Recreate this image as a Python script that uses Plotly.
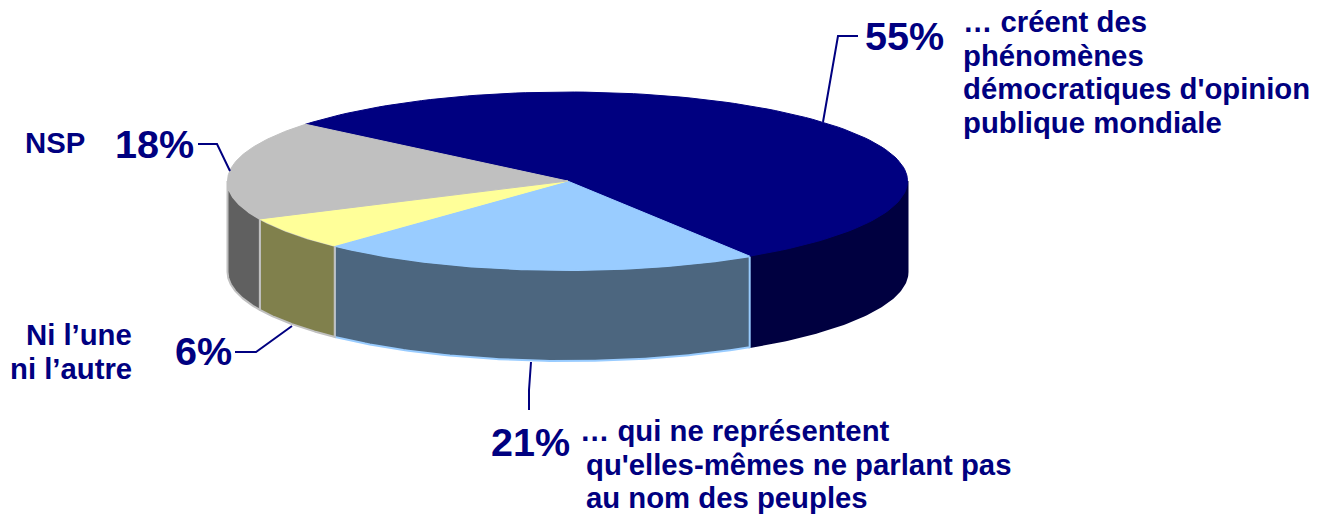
import numpy as np
import plotly.graph_objects as go

categories = ["… créent des phénomènes démocratiques d'opinion publique mondiale",
              "… qui ne représentent qu'elles-mêmes ne parlant pas au nom des peuples",
              "Ni l’une ni l’autre", "NSP"]
values = [55, 21, 6, 18]
top_colors = ["#000080", "#99CCFF", "#FFFF99", "#C0C0C0"]
side_colors = ["#000040", "#4C667F", "#80804C", "#606060"]
edge_colors = ["#000080", "#99CCFF", "#C0C0C0", "#C0C0C0"]
value_pos = [(904, 36), (530, 442), (203, 351), (154, 144)]
label_lines = [
    [("… créent des", 961, 21), ("phénomènes", 961, 55), ("démocratiques d'opinion", 961, 88), ("publique mondiale", 961, 122)],
    [("… qui ne représentent", 578, 430), ("qu'elles-mêmes ne parlant pas", 584, 464), ("au nom des peuples", 584, 497)],
    [("Ni l’une", 134, 334), ("ni l’autre", 134, 368)],
    [("NSP", 87, 142)],
]
leader_x = [[858, 838, 823], [529, 529, 531], [235, 256, 292], [198, 217, 230]]
leader_y = [[36, 36, 122], [410, 390, 362], [352, 352, 326], [144, 144, 171]]

CX, CY, RX, RY, DEPTH = 567.5, 181, 340, 89, 91
START = 140.4
NAVY = "#000080"
FONT = "Liberation Sans"

def ell(deg, dy=0):
    r = np.radians(deg)
    return CX + RX * np.cos(r), CY - RY * np.sin(r) + dy

fig = go.Figure()
bounds = START - np.cumsum([0] + values) * 3.6
# side walls
for i in range(len(values)):
    a0, a1 = bounds[i], bounds[i + 1]
    # visible front of the cylinder lies between 0 and -180 degrees
    lo, hi = max(a1, -180), min(a0, 0)
    if hi <= lo:
        continue
    t = np.linspace(hi, lo, 80)
    xt, yt = ell(t)
    xb, yb = ell(t[::-1], DEPTH)
    fig.add_trace(go.Scatter(x=np.r_[xt, xb, xt[0]], y=np.r_[yt, yb, yt[0]], mode="lines",
                             fill="toself", fillcolor=side_colors[i],
                             line=dict(color=edge_colors[i] if i else side_colors[i], width=2),
                             hoverinfo="skip", showlegend=False))
# top faces
for i in range(len(values)):
    t = np.linspace(bounds[i], bounds[i + 1], 120)
    xt, yt = ell(t)
    fig.add_trace(go.Scatter(x=np.r_[CX, xt, CX], y=np.r_[CY, yt, CY], mode="lines",
                             fill="toself", fillcolor=top_colors[i],
                             line=dict(color=top_colors[i], width=1),
                             hoverinfo="skip", showlegend=False))
# leader lines
for lx, ly in zip(leader_x, leader_y):
    fig.add_trace(go.Scatter(x=lx, y=ly, mode="lines", line=dict(color=NAVY, width=2),
                             hoverinfo="skip", showlegend=False))

anns = []
for v, (x, y) in zip(values, value_pos):
    anns.append(dict(x=x, y=y, text=f"<b>{v}%</b>", showarrow=False, xanchor="center", yanchor="middle",
                     font=dict(family=FONT, size=39.5, color=NAVY)))
for i, lines in enumerate(label_lines):
    anchor = "right" if i == 2 or i == 3 else "left"
    for s, x, y in lines:
        anns.append(dict(x=x, y=y, text=f"<b>{s}</b>", showarrow=False, xanchor=anchor, yanchor="middle",
                         font=dict(family=FONT, size=29.3, color=NAVY)))

fig.update_layout(width=1330, height=515, margin=dict(l=0, r=0, t=0, b=0),
                  paper_bgcolor="white", plot_bgcolor="white", annotations=anns,
                  xaxis=dict(range=[0, 1330], visible=False, fixedrange=True),
                  yaxis=dict(range=[515, 0], visible=False, fixedrange=True))
fig.write_html("out.html", config=dict(displayModeBar=False),
               post_script="document.body.style.margin='0';document.body.style.overflow='hidden';")
